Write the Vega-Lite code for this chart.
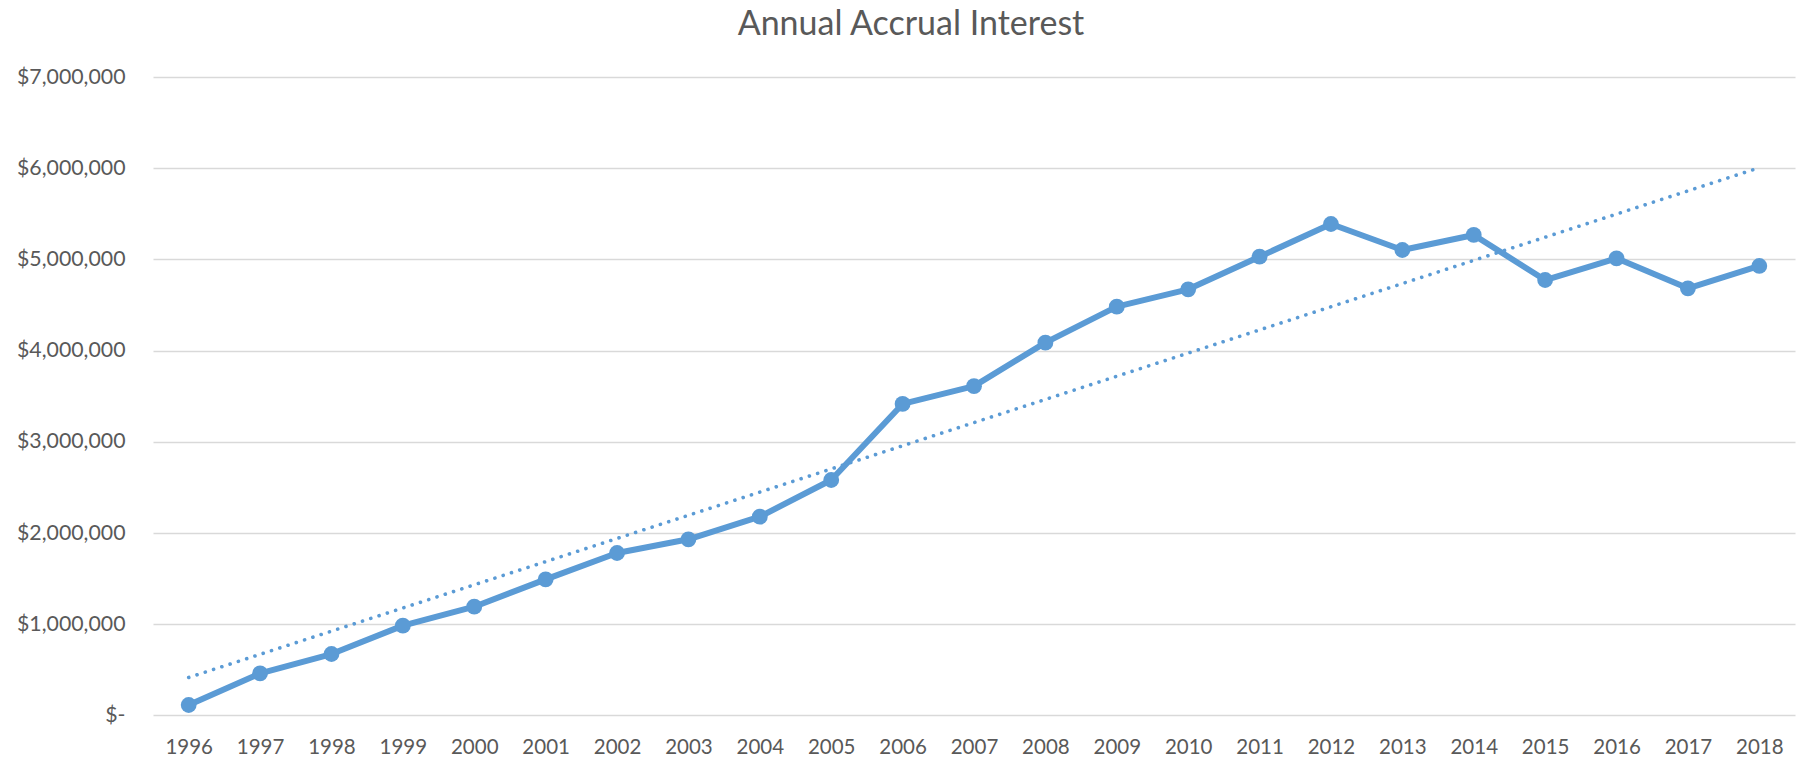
{
  "$schema": "https://vega.github.io/schema/vega-lite/v6.json",
  "autosize": {"type": "none"},
  "padding": {"left": 153, "top": 77, "right": 3, "bottom": 46.6},
  "width": 1642,
  "height": 638.4,
  "background": "white",
  "title": {
    "text": "Annual Accrual Interest",
    "font": "Lato",
    "fontSize": 34,
    "fontWeight": "normal",
    "color": "#595959",
    "anchor": "middle",
    "frame": "group",
    "dx": -63,
    "baseline": "alphabetic",
    "offset": -3
  },
  "config": {
    "view": {"stroke": null},
    "axis": {
      "labelFont": "Lato",
      "labelFontSize": 20.5,
      "labelColor": "#595959",
      "title": null
    }
  },
  "data": {
    "values": [
      {"year": 1996, "value": 114000},
      {"year": 1997, "value": 461000},
      {"year": 1998, "value": 673000},
      {"year": 1999, "value": 984000},
      {"year": 2000, "value": 1192000},
      {"year": 2001, "value": 1492000},
      {"year": 2002, "value": 1781000},
      {"year": 2003, "value": 1931000},
      {"year": 2004, "value": 2179000},
      {"year": 2005, "value": 2581000},
      {"year": 2006, "value": 3415000},
      {"year": 2007, "value": 3610000},
      {"year": 2008, "value": 4087000},
      {"year": 2009, "value": 4482000},
      {"year": 2010, "value": 4672000},
      {"year": 2011, "value": 5030000},
      {"year": 2012, "value": 5388000},
      {"year": 2013, "value": 5103000},
      {"year": 2014, "value": 5268000},
      {"year": 2015, "value": 4774000},
      {"year": 2016, "value": 5012000},
      {"year": 2017, "value": 4683000},
      {"year": 2018, "value": 4928000}
    ]
  },
  "encoding": {
    "x": {
      "field": "year",
      "type": "quantitative",
      "scale": {"domain": [1995.5, 2018.5], "nice": false, "zero": false},
      "axis": {
        "values": [1996, 1997, 1998, 1999, 2000, 2001, 2002, 2003, 2004, 2005, 2006, 2007, 2008, 2009, 2010, 2011, 2012, 2013, 2014, 2015, 2016, 2017, 2018],
        "format": "d",
        "grid": false,
        "domain": false,
        "ticks": false,
        "tickSize": 0,
        "labelPadding": 22,
        "labelFlush": false,
        "labelOverlap": false
      }
    },
    "y": {
      "field": "value",
      "type": "quantitative",
      "scale": {"domain": [0, 7000000], "nice": false},
      "axis": {
        "values": [0, 1000000, 2000000, 3000000, 4000000, 5000000, 6000000, 7000000],
        "labelExpr": "datum.value == 0 ? '$-\u00a0\u00a0' : '$' + format(datum.value, ',')",
        "labelFontSize": 21.3,
        "grid": true,
        "gridColor": "#d9d9d9",
        "gridWidth": 1.5,
        "domain": false,
        "ticks": false,
        "tickSize": 0,
        "labelPadding": 28,
        "labelFlush": false,
        "labelOverlap": false
      }
    }
  },
  "layer": [
    {
      "mark": {
        "type": "line",
        "color": "#5B9BD5",
        "strokeWidth": 6,
        "strokeJoin": "round",
        "point": {"filled": true, "size": 250, "color": "#5B9BD5", "opacity": 1}
      }
    },
    {
      "transform": [
        {"regression": "value", "on": "year", "method": "linear", "extent": [1996, 2018]}
      ],
      "mark": {
        "type": "line",
        "color": "#5B9BD5",
        "strokeWidth": 3.6,
        "strokeCap": "round",
        "strokeDash": [0.1, 8.6]
      }
    }
  ]
}
